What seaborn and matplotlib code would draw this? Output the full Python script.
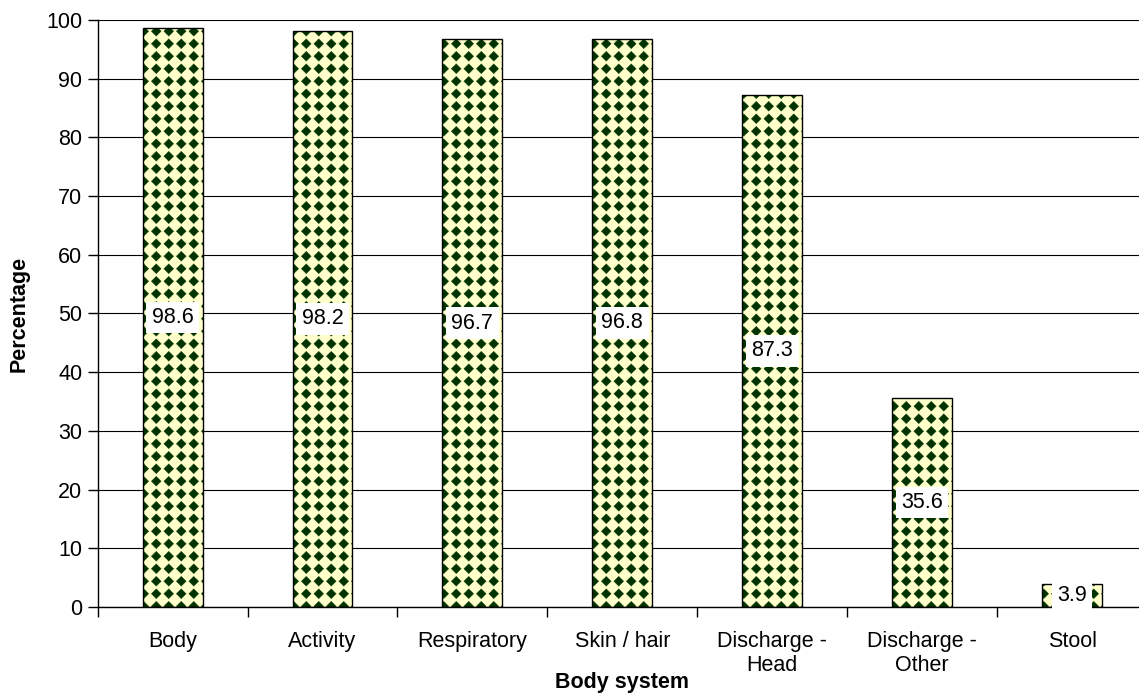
import numpy as np
import matplotlib
matplotlib.use("Agg")
import matplotlib.pyplot as plt
import matplotlib.hatch as mhatch
from matplotlib.path import Path
import seaborn as sns

categories = ["Body", "Activity", "Respiratory", "Skin / hair",
              "Discharge -\nHead", "Discharge -\nOther", "Stool"]
values = [98.6, 98.2, 96.7, 96.8, 87.3, 35.6, 3.9]
y_ticks = list(range(0, 101, 10))

LIGHT = "#FFFFCC"
DARK = "#003300"


class DiamondGrid(mhatch.HatchPatternBase):
    """'*' hatch drawn as a square grid of filled diamonds."""

    def __init__(self, hatch, density):
        self.num_rows = hatch.count("*") * 8
        self.num_vertices = self.num_rows ** 2 * 5

    def set_vertices_and_codes(self, vertices, codes):
        n = self.num_rows
        step = 1.0 / n
        r = 0.39 * step
        diamond = np.array([[0, -r], [r, 0], [0, r], [-r, 0], [0, -r]])
        dcodes = [Path.MOVETO, Path.LINETO, Path.LINETO, Path.LINETO,
                  Path.CLOSEPOLY]
        centers = (np.arange(n) + 0.5) * step
        k = 0
        for cy in centers:
            for cx in centers:
                vertices[k:k + 5] = diamond + [cx, cy]
                codes[k:k + 5] = dcodes
                k += 5


mhatch._hatch_types = [DiamondGrid if t is mhatch.Stars else t
                       for t in mhatch._hatch_types]

sns.set_theme(style="white")
plt.rcParams["font.family"] = ["Liberation Sans", "DejaVu Sans"]
plt.rcParams["hatch.linewidth"] = 0.3
plt.rcParams["text.color"] = "black"
plt.rcParams["axes.labelcolor"] = "black"
plt.rcParams["xtick.color"] = "black"
plt.rcParams["ytick.color"] = "black"

FS = 15.5

fig = plt.figure(figsize=(11.39, 6.96), dpi=100)
ax = fig.add_axes([0.0857, 0.1279, 0.9214, 0.8434])

# patterned fill (hatch colour follows the edge colour)
sns.barplot(x=categories, y=values, width=0.4, color=LIGHT, saturation=1,
            edgecolor=DARK, linewidth=0, hatch="*", ax=ax, zorder=2)
# black outline on top
sns.barplot(x=categories, y=values, width=0.4, facecolor="none",
            saturation=1, edgecolor="black", linewidth=1.0, ax=ax, zorder=3)

ax.set_ylim(0, 100)
ax.set_xlim(-0.5, len(categories) - 0.5)
ax.set_yticks(y_ticks)
ax.yaxis.grid(True, color="black", linewidth=0.8)
ax.set_axisbelow(True)

ax.set_xticks(np.arange(len(categories)))
ax.set_xticklabels(categories)
ax.set_xticks(np.arange(-0.5, len(categories), 1), minor=True)
ax.tick_params(axis="x", which="major", length=0, pad=17, labelsize=FS,
               labelcolor="black")
ax.tick_params(axis="x", which="minor", length=7, width=1, color="black",
               direction="out", bottom=True)
ax.tick_params(axis="y", length=7, width=1, color="black", direction="out",
               left=True, pad=4, labelsize=FS, labelcolor="black")

for side in ("top", "right"):
    ax.spines[side].set_visible(False)
for side in ("left", "bottom"):
    ax.spines[side].set_color("black")
    ax.spines[side].set_linewidth(1.0)

ax.set_xlabel("Body system", fontsize=FS, fontweight="bold", labelpad=-3,
              color="black")
ax.set_ylabel("Percentage", fontsize=FS, fontweight="bold", labelpad=12,
              color="black")

for i, v in enumerate(values):
    ax.text(i, v / 2, f"{v:.1f}", ha="center", va="center", fontsize=FS,
            color="black", zorder=4,
            bbox=dict(boxstyle="square,pad=0.25", facecolor="white",
                      edgecolor="none"))

fig.savefig("out.png", dpi=100)
